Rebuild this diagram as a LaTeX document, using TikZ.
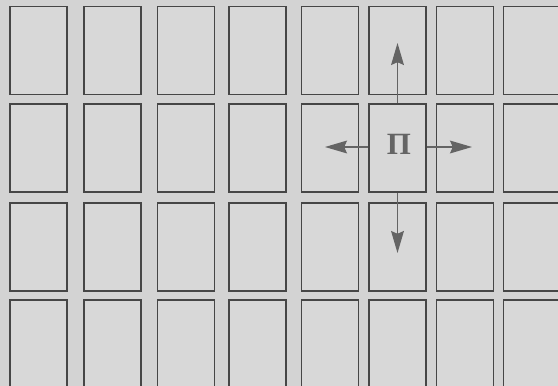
\documentclass[tikz,border=0pt]{standalone}
\usepackage{fontspec}
\newfontfamily\cyrserif{Liberation Serif}
\usetikzlibrary{arrows.meta}
\definecolor{paper}{RGB}{211,211,211}
\definecolor{cellgray}{RGB}{216,216,216}
\definecolor{framegray}{RGB}{70,70,70}
\definecolor{arrowgray}{RGB}{100,100,100}
\tikzset{
  cell/.style={draw=framegray, fill=cellgray, line width=1.1pt, inner sep=0pt,
    minimum width=1.42cm, minimum height=2.2cm},
  pointer/.style={draw=arrowgray, line width=0.9pt,
    -{Stealth[length=0.55cm, width=0.32cm, inset=0.07cm]}}
}

\begin{document}
\begin{tikzpicture}[x=0.025cm, y=-0.025cm]
            \fill[paper] (0,0) rectangle (558,386);
            \useasboundingbox (0,0) rectangle (558,386);
            % grid of cells
            \begin{scope}
              \clip (0,0) rectangle (558,386);
              \foreach \y [count=\r] in {50.5,148,247,344}
                \foreach \x [count=\c] in {38.5,112.5,186,257.5,330,397.5,465,532}
                  \node[cell] (c\r\c) at (\x,\y) {};
            \end{scope}
            \node[text=arrowgray, font=\cyrserif\bfseries\fontsize{22}{22}\selectfont] (pe) at (399,144) {П};
            % free ends of the arrows
            \coordinate (up) at (397.5,43);
            \coordinate (down) at (397.5,253);
            \coordinate (left) at (325,147);
            \coordinate (right) at (472,147);
            \draw[pointer] (c26.north) -- (up);
            \draw[pointer] (c26.south) -- (down);
            \draw[pointer] (c26.west |- left) -- (left);
            \draw[pointer] (c26.east |- right) -- (right);
          \end{tikzpicture}
\end{document}
